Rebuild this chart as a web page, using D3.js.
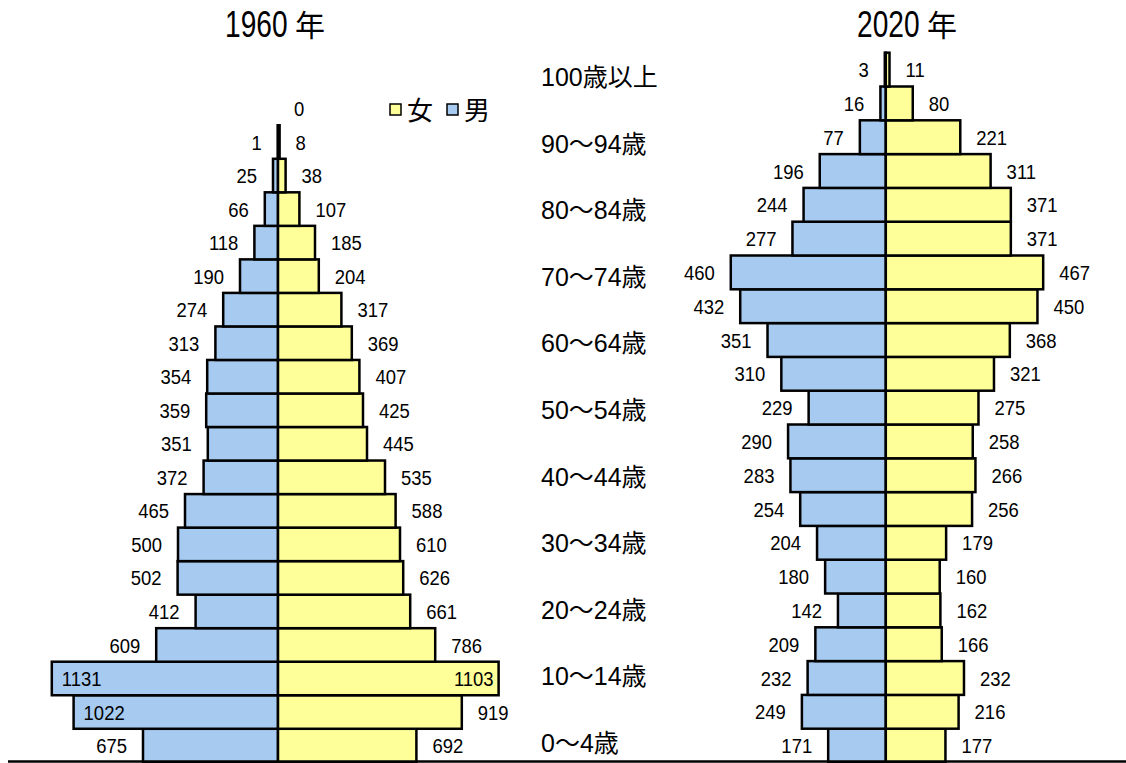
<!DOCTYPE html>
<html>
<head>
<meta charset="utf-8">
<script src="https://cdn.jsdelivr.net/npm/d3@7"></script>
<style>
  body { margin: 0; background: #fff; }
  svg { display: block; }
  .num { font-family: "Liberation Sans", Arial, sans-serif; font-size: 21px; fill: #000; }
  .age { font-family: "Liberation Sans", Arial, "Noto Sans CJK JP", sans-serif; font-size: 25px; fill: #000; }
  .title { font-family: "Liberation Sans", Arial, sans-serif; font-size: 37px; fill: #000; }
  .cjk { font-family: "Noto Sans CJK JP", sans-serif; fill: #000; }
</style>
</head>
<body>
<div id="chart"></div>
<script>
// Population pyramids, 1960 vs 2020 (units as in source)

const ages = ['0-4', '5-9', '10-14', '15-19', '20-24', '25-29', '30-34', '35-39', '40-44', '45-49',
              '50-54', '55-59', '60-64', '65-69', '70-74', '75-79', '80-84', '85-89', '90-94', '95-99', '100+'];

// 1960 (100+ not shown)
const male1960   = [675, 1022, 1131, 609, 412, 502, 500, 465, 372, 351, 359, 354, 313, 274, 190, 118, 66, 25, 1, 0, null];
const female1960 = [692, 919, 1103, 786, 661, 626, 610, 588, 535, 445, 425, 407, 369, 317, 204, 185, 107, 38, 8, 0, null];

// 2020
const male2020   = [171, 249, 232, 209, 142, 180, 204, 254, 283, 290, 229, 310, 351, 432, 460, 277, 244, 196, 77, 16, 3];
const female2020 = [177, 216, 232, 166, 162, 160, 179, 256, 266, 258, 275, 321, 368, 450, 467, 371, 371, 311, 221, 80, 11];

// age axis labels (every other group)
const ageTicks = ['0～4歳', '10～14歳', '20～24歳', '30～34歳', '40～44歳', '50～54歳',
                  '60～64歳', '70～74歳', '80～84歳', '90～94歳', '100歳以上'];

const years = ['1960', '2020'];
const legendItems = ['女', '男'];

const width = 1126, height = 763;
const colorMale = '#A6CAF0';
const colorFemale = '#FFFF99';
const squeeze = 0.88;   // narrow digits like the original font

const svg = d3.select('#chart').append('svg')
    .attr('width', width)
    .attr('height', height);

function drawPyramid(cfg) {
    const g = svg.append('g');

    const y = d3.scaleBand()
        .domain(ages)
        .range([cfg.bottom, cfg.top])
        .padding(0);

    const xm = d3.scaleLinear().domain([0, cfg.unit]).range([cfg.cx, cfg.cx - cfg.unitPx]);
    const xf = d3.scaleLinear().domain([0, cfg.unit]).range([cfg.cx, cfg.cx + cfg.unitPx]);

    const rows = ages.map((a, i) => ({ age: a, m: cfg.male[i], f: cfg.female[i] }))
        .filter(d => d.m !== null && d.f !== null);

    // male bars
    g.selectAll('rect.male')
        .data(rows)
        .enter()
        .append('rect')
        .attr('class', 'male')
        .attr('x', d => xm(d.m))
        .attr('y', d => y(d.age))
        .attr('width', d => xm(0) - xm(d.m))
        .attr('height', y.bandwidth())
        .attr('fill', colorMale)
        .attr('stroke', '#000')
        .attr('stroke-width', 2.5);

    // female bars
    g.selectAll('rect.female')
        .data(rows)
        .enter()
        .append('rect')
        .attr('class', 'female')
        .attr('x', xf(0))
        .attr('y', d => y(d.age))
        .attr('width', d => xf(d.f) - xf(0))
        .attr('height', y.bandwidth())
        .attr('fill', colorFemale)
        .attr('stroke', '#000')
        .attr('stroke-width', 2.5);

    const midY = d => y(d.age) + y.bandwidth() / 2;

    // male labels (inside the bar when too long)
    g.selectAll('text.mlab')
        .data(rows.filter(d => !(d.m === 0 && d.f === 0)))
        .enter()
        .append('text')
        .attr('class', 'num mlab')
        .attr('transform', d => {
            const x = d.m > cfg.insideAt ? xm(d.m) + 10 : xm(d.m) - 16;
            return `translate(${x},${midY(d)}) scale(${squeeze},1)`;
        })
        .attr('dy', '0.36em')
        .attr('text-anchor', d => d.m > cfg.insideAt ? 'start' : 'end')
        .text(d => d.m);

    // female labels
    g.selectAll('text.flab')
        .data(rows)
        .enter()
        .append('text')
        .attr('class', 'num flab')
        .attr('transform', d => {
            const x = d.f > cfg.insideAt ? xf(d.f) - 5 : xf(d.f) + 16;
            return `translate(${x},${midY(d)}) scale(${squeeze},1)`;
        })
        .attr('dy', '0.36em')
        .attr('text-anchor', d => d.f > cfg.insideAt ? 'end' : 'start')
        .text(d => d.f);

    // title: narrow digits + 年
    g.append('text')
        .attr('class', 'title')
        .attr('transform', `translate(${cfg.titleX},37) scale(0.76,1)`)
        .text(cfg.year);
    g.append('text')
        .attr('class', 'cjk')
        .attr('x', cfg.titleX + 70)
        .attr('y', 36)
        .style('font-size', '30px')
        .text('年');
}

drawPyramid({
    year: years[0], male: male1960, female: female1960,
    cx: 278, unit: 1000, unitPx: 200,
    top: 58.2, bottom: 762.3, insideAt: 1000, titleX: 225
});

drawPyramid({
    year: years[1], male: male2020, female: female2020,
    cx: 885.8, unit: 100, unitPx: 33.7,
    top: 52.7, bottom: 762.5, insideAt: 1000, titleX: 857
});

// age labels in the middle
const yAge = d3.scalePoint()
    .domain(ageTicks)
    .range([752, 86]);

svg.selectAll('text.age')
    .data(ageTicks)
    .enter()
    .append('text')
    .attr('class', 'age')
    .attr('x', 541)
    .attr('y', d => yAge(d))
    .text(d => d);

// legend
const legend = svg.append('g')
    .attr('transform', 'translate(390, 104)');

const li = legend.selectAll('g')
    .data(legendItems)
    .enter()
    .append('g')
    .attr('transform', (d, i) => `translate(${i * 57}, 0)`);

li.append('rect')
    .attr('width', 11)
    .attr('height', 11)
    .attr('fill', (d, i) => i === 0 ? colorFemale : colorMale)
    .attr('stroke', '#000')
    .attr('stroke-width', 1.5);

li.append('text')
    .attr('class', 'cjk')
    .attr('x', 17)
    .attr('y', 16)
    .style('font-size', '26px')
    .text(d => d);

// baseline
svg.append('line')
    .attr('x1', 8)
    .attr('x2', width)
    .attr('y1', 761.5)
    .attr('y2', 761.5)
    .attr('stroke', '#000')
    .attr('stroke-width', 2.5);
</script>
</body>
</html>
